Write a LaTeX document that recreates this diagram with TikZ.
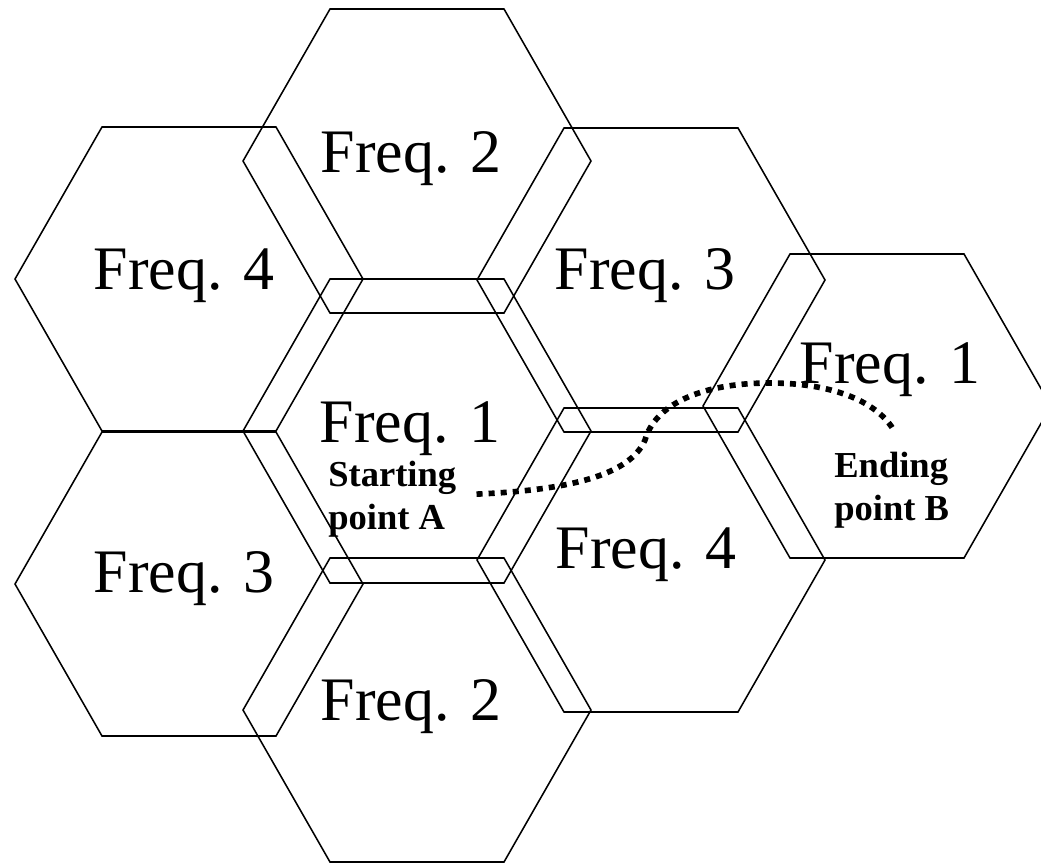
\documentclass[tikz,border=0pt]{standalone}
\usepackage{fontspec}
\setmainfont{Liberation Serif}
\usepackage{tikz}
\usetikzlibrary{calc}

\tikzset{
  cell/.style={line width=1.1pt, line join=miter},
  freq/.style={font=\fontsize{44}{50}\selectfont, anchor=base, inner sep=0pt},
  pointlabel/.style={font=\fontsize{26}{30}\selectfont\bfseries, align=left, anchor=base west, inner sep=0pt},
  route/.style={line width=4pt, dash pattern=on 4.3pt off 4.3pt}
}

\begin{document}
\begin{tikzpicture}[x=0.025cm,y=-0.025cm]
\useasboundingbox (0,0) rectangle (1041,863);
% the cells, given by their centres
\foreach \cx/\cy in {417/161, 189/279, 651/280, 417/431, 877/406, 189/584, 651/560, 417/710}
  \draw [cell] (\cx,\cy) +(-174,0) -- +(-87,-152) -- +(87,-152) -- +(174,0) -- +(87,152) -- +(-87,152) -- cycle;
% frequency of each cell
\node [freq] (ftop) at (411,172) {Freq. 2};
\node [freq] (fupleft) at (184,289) {Freq. 4};
\node [freq] (fupright) at (645,289) {Freq. 3};
\node [freq] (fmid) at (410,442) {Freq. 1};
\node [freq] (fright) at (890,383) {Freq. 1};
\node [freq] (flowleft) at (184,592) {Freq. 3};
\node [freq] (flowright) at (646,568) {Freq. 4};
\node [freq] (fbottom) at (411,720) {Freq. 2};
% start and end of the route (base is the last line)
\node [pointlabel] (startA) at (328,529) {Starting\\point A};
\node [pointlabel] (endB) at (834,520) {Ending\\point B};
\draw [route] ($(startA.east)+(20,-5)$) .. controls (570,490) and (630,475) .. (645,440)
  .. controls (655,405) and (700,383) .. (770,383)
  .. controls (830,383) and (875,400) .. ($(endB.north)+(1.5,-23)$);
\end{tikzpicture}
\end{document}
